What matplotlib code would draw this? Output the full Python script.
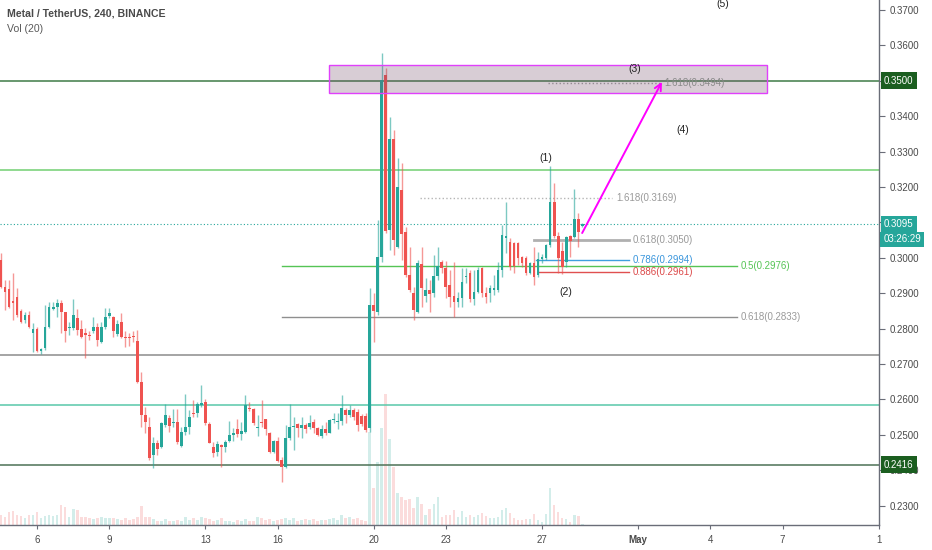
import numpy as np
import matplotlib.pyplot as plt
from matplotlib.patches import Rectangle

plt.rcParams['font.family'] = ['Liberation Sans', 'DejaVu Sans']

# 4h candles, first one is Apr 4 12:00
opens = [0.2994, 0.2918, 0.2911, 0.2878, 0.2890, 0.2851, 0.2824, 0.2839, 0.2789, 0.2800,
         0.2738, 0.2744, 0.2804, 0.2855, 0.2862, 0.2871, 0.2848, 0.2801, 0.2801, 0.2829,
         0.2798, 0.2789, 0.2782, 0.2792, 0.2804, 0.2763, 0.2804, 0.2836, 0.2834, 0.2785,
         0.2820, 0.2777, 0.2777, 0.2779, 0.2766, 0.2650, 0.2556, 0.2523, 0.2443, 0.2478,
         0.2465, 0.2528, 0.2548, 0.2532, 0.2535, 0.2468, 0.2509, 0.2521, 0.2562, 0.2561,
         0.2584, 0.2594, 0.2531, 0.2466, 0.2452, 0.2471, 0.2466, 0.2483, 0.2500, 0.2516,
         0.2503, 0.2509, 0.2575, 0.2572, 0.2518, 0.2537, 0.2544, 0.2505, 0.2452, 0.2483,
         0.2429, 0.2410, 0.2490, 0.2521, 0.2530, 0.2518, 0.2528, 0.2521, 0.2537, 0.2518,
         0.2497, 0.2516, 0.2506, 0.2542, 0.2537, 0.2540, 0.2570, 0.2556, 0.2570, 0.2565,
         0.2553, 0.2553, 0.2519, 0.2867, 0.2848, 0.3003, 0.3516, 0.3078, 0.3337, 0.3031,
         0.3192, 0.3073, 0.2951, 0.2901, 0.2848, 0.2982, 0.2892, 0.2909, 0.2901, 0.2949,
         0.2988, 0.2971, 0.2923, 0.2892, 0.2875, 0.2887, 0.2946, 0.2957, 0.2884, 0.2904,
         0.2971, 0.2901, 0.2901, 0.2909, 0.2909, 0.2966, 0.3057, 0.3045, 0.3042, 0.3041,
         0.3001, 0.2999, 0.2957, 0.2984, 0.2951, 0.2996, 0.2999, 0.3036, 0.3158, 0.3061,
         0.3019, 0.2989, 0.3061, 0.3059, 0.3109, 0.3090]
highs = [0.3014, 0.2937, 0.2937, 0.2956, 0.2914, 0.2855, 0.2848, 0.2850, 0.2815, 0.2805,
         0.2744, 0.2866, 0.2876, 0.2876, 0.2885, 0.2881, 0.2848, 0.2820, 0.2883, 0.2855,
         0.2824, 0.2801, 0.2792, 0.2832, 0.2815, 0.2820, 0.2857, 0.2857, 0.2836, 0.2824,
         0.2843, 0.2792, 0.2787, 0.2792, 0.2796, 0.2678, 0.2579, 0.2551, 0.2495, 0.2485,
         0.2537, 0.2587, 0.2556, 0.2572, 0.2572, 0.2523, 0.2615, 0.2570, 0.2598, 0.2594,
         0.2640, 0.2600, 0.2537, 0.2481, 0.2483, 0.2474, 0.2485, 0.2540, 0.2518, 0.2544,
         0.2537, 0.2612, 0.2594, 0.2575, 0.2556, 0.2598, 0.2544, 0.2507, 0.2485, 0.2495,
         0.2437, 0.2528, 0.2587, 0.2551, 0.2532, 0.2551, 0.2534, 0.2556, 0.2544, 0.2521,
         0.2528, 0.2537, 0.2544, 0.2562, 0.2561, 0.2612, 0.2577, 0.2584, 0.2577, 0.2572,
         0.2559, 0.2561, 0.2915, 0.2901, 0.3107, 0.3579, 0.3536, 0.3399, 0.3361, 0.3282,
         0.3268, 0.3087, 0.3031, 0.2918, 0.2994, 0.3031, 0.2943, 0.2937, 0.3008, 0.3031,
         0.2994, 0.2991, 0.2966, 0.2988, 0.2904, 0.2971, 0.2971, 0.2966, 0.2966, 0.2974,
         0.2974, 0.2918, 0.2923, 0.2951, 0.2988, 0.3093, 0.3158, 0.3056, 0.3045, 0.3045,
         0.3005, 0.3005, 0.2989, 0.3031, 0.3017, 0.3011, 0.3039, 0.3258, 0.3210, 0.3073,
         0.3045, 0.3061, 0.3064, 0.3193, 0.3126, 0.3099]
lows = [0.2914, 0.2853, 0.2857, 0.2824, 0.2834, 0.2815, 0.2815, 0.2801, 0.2735, 0.2735,
        0.2728, 0.2740, 0.2801, 0.2853, 0.2834, 0.2787, 0.2763, 0.2782, 0.2796, 0.2782,
        0.2773, 0.2716, 0.2768, 0.2787, 0.2751, 0.2758, 0.2800, 0.2829, 0.2777, 0.2779,
        0.2773, 0.2748, 0.2751, 0.2763, 0.2646, 0.2523, 0.2504, 0.2429, 0.2406, 0.2443,
        0.2462, 0.2523, 0.2509, 0.2523, 0.2474, 0.2466, 0.2500, 0.2503, 0.2551, 0.2551,
        0.2579, 0.2528, 0.2476, 0.2437, 0.2440, 0.2410, 0.2452, 0.2481, 0.2483, 0.2495,
        0.2485, 0.2505, 0.2566, 0.2528, 0.2497, 0.2523, 0.2500, 0.2449, 0.2448, 0.2424,
        0.2368, 0.2406, 0.2485, 0.2457, 0.2495, 0.2490, 0.2506, 0.2516, 0.2505, 0.2497,
        0.2490, 0.2500, 0.2505, 0.2534, 0.2516, 0.2528, 0.2532, 0.2551, 0.2542, 0.2511,
        0.2525, 0.2509, 0.2508, 0.2762, 0.2839, 0.2989, 0.3070, 0.3022, 0.3008, 0.3028,
        0.2994, 0.2946, 0.2904, 0.2824, 0.2845, 0.2861, 0.2875, 0.2847, 0.2890, 0.2937,
        0.2957, 0.2887, 0.2861, 0.2833, 0.2861, 0.2861, 0.2929, 0.2875, 0.2867, 0.2901,
        0.2889, 0.2872, 0.2875, 0.2895, 0.2904, 0.2946, 0.3014, 0.2966, 0.2957, 0.2980,
        0.2975, 0.2951, 0.2954, 0.2923, 0.2946, 0.2984, 0.2994, 0.3031, 0.3055, 0.2956,
        0.2954, 0.2973, 0.3003, 0.3055, 0.3031, 0.3088]
closes = [0.2918, 0.2904, 0.2862, 0.2873, 0.2839, 0.2820, 0.2839, 0.2804, 0.2800, 0.2738,
          0.2742, 0.2804, 0.2862, 0.2862, 0.2871, 0.2848, 0.2792, 0.2804, 0.2839, 0.2796,
          0.2777, 0.2782, 0.2780, 0.2804, 0.2768, 0.2805, 0.2832, 0.2845, 0.2792, 0.2813,
          0.2777, 0.2774, 0.2774, 0.2775, 0.2650, 0.2556, 0.2537, 0.2434, 0.2478, 0.2459,
          0.2534, 0.2556, 0.2525, 0.2537, 0.2481, 0.2509, 0.2523, 0.2551, 0.2558, 0.2587,
          0.2590, 0.2534, 0.2478, 0.2448, 0.2474, 0.2466, 0.2481, 0.2500, 0.2506, 0.2503,
          0.2511, 0.2584, 0.2572, 0.2532, 0.2521, 0.2532, 0.2516, 0.2452, 0.2483, 0.2427,
          0.2408, 0.2490, 0.2523, 0.2525, 0.2518, 0.2528, 0.2516, 0.2534, 0.2518, 0.2500,
          0.2516, 0.2505, 0.2542, 0.2544, 0.2540, 0.2575, 0.2556, 0.2570, 0.2551, 0.2528,
          0.2530, 0.2514, 0.2867, 0.2851, 0.3002, 0.3502, 0.3076, 0.3337, 0.3050, 0.3200,
          0.3067, 0.2951, 0.2909, 0.2853, 0.2986, 0.2915, 0.2909, 0.2898, 0.2949, 0.2977,
          0.2971, 0.2918, 0.2889, 0.2875, 0.2887, 0.2932, 0.2949, 0.2884, 0.2904, 0.2966,
          0.2901, 0.2889, 0.2915, 0.2915, 0.2966, 0.3064, 0.3061, 0.2975, 0.2977, 0.2999,
          0.2984, 0.2957, 0.2984, 0.2946, 0.2996, 0.3003, 0.3036, 0.3158, 0.3061, 0.2999,
          0.2975, 0.3059, 0.3048, 0.3109, 0.3074, 0.3095]
volumes = [10, 8, 13, 14, 10, 9, 7, 10, 10, 13, 7, 9, 10, 9, 10, 20, 18, 8, 16, 15,
           8, 8, 7, 6, 7, 8, 7, 7, 7, 6, 5, 7, 5, 6, 8, 19, 8, 8, 6, 4,
           4, 6, 4, 4, 5, 4, 8, 5, 7, 5, 8, 7, 6, 4, 5, 7, 4, 4, 3, 5,
           4, 6, 4, 4, 8, 7, 5, 6, 4, 5, 6, 7, 5, 7, 4, 5, 6, 5, 6, 4,
           5, 5, 6, 7, 5, 10, 7, 8, 6, 7, 5, 4,
           93, 37, 63, 97, 131, 86, 58, 32, 28, 25, 26, 17, 28, 21, 10, 16, 21, 28, 8, 10,
           10, 15, 8, 14, 8, 10, 8, 10, 12, 9, 7, 7, 8, 15, 17, 12, 7, 5, 5, 6,
           6, 11, 5, 3, 11, 37, 20, 13, 7, 6, 3, 10, 9, 1]

# day of month (May continues as 31, 32...) for the x labels
tick_days = [6, 9, 13, 16, 20, 23, 27, 31, 34, 37, 41]
tick_labels = ['6', '9', '13', '16', '20', '23', '27', 'May', '4', '7', '1']
price_ticks = [0.23, 0.24, 0.25, 0.26, 0.27, 0.28, 0.29, 0.30, 0.31, 0.32, 0.33,
               0.34, 0.35, 0.36, 0.37]
# scale labels covered by the price boxes
hidden_ticks = [0.31, 0.35]

# full-width horizontal levels
levels = [0.3500, 0.3248, 0.2725, 0.2584, 0.2416]
level_colors = ['#3f7a47', '#72d072', '#8c8c8c', '#58c8aa', '#4d7256']
last_price = 0.3095
timer = '03:26:29'

# fib levels: price, start candle, end candle, colour, style
fibs = [
    (0.3494, 136.5, 164.4, '#a0a0a0', ':', 1.0, '1.618(0.3494)'),
    (0.3169, 104.5, 152.4, '#b5b5b5', ':', 1.0, '1.618(0.3169)'),
    (0.3050, 133.0, 156.7, '#b0b0b0', '-', 2.0, '0.618(0.3050)'),
    (0.2994, 133.5, 156.7, '#3f9fe0', '-', 1.0, '0.786(0.2994)'),
    (0.2961, 134.0, 156.7, '#e05050', '-', 1.0, '0.886(0.2961)'),
    (0.2976, 70.1, 183.6, '#55c455', '-', 1.0, '0.5(0.2976)'),
    (0.2833, 70.1, 183.6, '#8f8f8f', '-', 1.0, '0.618(0.2833)'),
]
fib_text_colors = ['#8a8a8a', '#9a9a9a', '#9a9a9a', '#3a96dc', '#dc4a4a', '#55c455', '#9a9a9a']

waves = ['(1)', '(2)', '(3)', '(4)', '(5)']
wave_x = [136.0, 141.0, 158.0, 170.0, 180.0]
wave_y = [0.3282, 0.2903, 0.3533, 0.3360, 0.3717]

zone_x = (81.8, 191.1)
zone_y = (0.3466, 0.3545)
arrow_from = (145.0, 0.3070)
arrow_to = (164.9, 0.3497)

green = '#26a69a'
red = '#ef5350'


def main():
    fig = plt.figure(figsize=(9.32, 5.5), dpi=100, facecolor='white')
    ax = fig.add_axes([0, 25 / 550, 879 / 932, 525 / 550])
    axv = ax.twinx()

    x = np.arange(len(closes))
    o = np.array(opens)
    c = np.array(closes)
    h = np.array(highs)
    l = np.array(lows)
    up = c >= o
    col = np.where(up, green, red)

    # volume overlay
    axv.bar(x, volumes, width=0.68, color=col, alpha=0.2, linewidth=0)
    axv.set_ylim(0, max(volumes) * 4.0)
    axv.axis('off')
    ax.set_zorder(axv.get_zorder() + 1)
    ax.patch.set_visible(False)

    # candles
    ax.vlines(x, l, h, colors=col, linewidth=1, alpha=0.6, zorder=3)
    ax.bar(x, np.maximum(np.abs(c - o), 0.0003), bottom=np.minimum(o, c), width=0.7,
           color=col, linewidth=0, zorder=4)

    for lev, lc in zip(levels, level_colors):
        ax.axhline(lev, color=lc, linewidth=1.1, zorder=2)
    ax.axhline(last_price, color=green, linewidth=0.8, linestyle=(0, (1, 2)), zorder=2)

    for (p, x0, x1, fc, ls, lw, txt), tc in zip(fibs, fib_text_colors):
        ax.plot([x0, x1], [p, p], color=fc, linestyle=ls, linewidth=lw, zorder=2)
        ax.text(x1 + 1.0, p, txt, color=tc, fontsize=7, va='center', ha='left', zorder=6)

    ax.add_patch(Rectangle((zone_x[0], zone_y[0]), zone_x[1] - zone_x[0], zone_y[1] - zone_y[0],
                           facecolor=(0.45, 0.3, 0.42, 0.28), edgecolor='#e040fb',
                           linewidth=1, zorder=5))
    ax.annotate('', xy=arrow_to, xytext=arrow_from,
                arrowprops=dict(arrowstyle='->', color='#ff00ff', lw=1.4,
                                shrinkA=0, shrinkB=0, mutation_scale=12), zorder=7)

    for t, wx, wy in zip(waves, wave_x, wave_y):
        ax.text(wx, wy, t, fontsize=7.5, color='#222222', ha='center', va='center', zorder=6)

    ax.set_xlim(-1 / 4.008, 878 / 4.008)
    ax.set_ylim(0.22452, 0.37283)

    ax.set_xticks([9 + (d - 6) * 6 for d in tick_days])
    ax.set_xticklabels(tick_labels)
    for lab in ax.get_xticklabels():
        if lab.get_text() == 'May':
            lab.set_fontweight('bold')
    ax.yaxis.tick_right()
    ax.set_yticks(price_ticks)
    ax.set_yticklabels(['' if p in hidden_ticks else '%.4f' % p for p in price_ticks])

    ax.tick_params(axis='x', length=3, color='#6a6d78', labelsize=7, labelcolor='#4a4a4a', pad=4)
    ax.tick_params(axis='y', length=4, color='#6a6d78', labelsize=7, labelcolor='#4a4a4a', pad=4)
    for s in ['top', 'left']:
        ax.spines[s].set_visible(False)
    for s in ['right', 'bottom']:
        ax.spines[s].set_color('#6a6d78')
        ax.spines[s].set_linewidth(1)

    tr = ax.get_yaxis_transform()
    for p, fc in [(0.3500, '#1b5e20'), (0.2416, '#1b5e20'), (last_price, green)]:
        ax.text(1.0057, p, '%.4f' % p, transform=tr, ha='left', va='center', fontsize=7,
                color='white', zorder=10, clip_on=False,
                bbox=dict(boxstyle='square,pad=0.35', fc=fc, ec='none'))
    ax.annotate(timer, xy=(1.0, last_price), xycoords=tr, xytext=(3, -11),
                textcoords='offset points', ha='left', va='center', fontsize=7, color='white',
                zorder=10, annotation_clip=False,
                bbox=dict(boxstyle='square,pad=0.3', fc=green, ec='none'))

    fig.text(7 / 932, 1 - 14 / 550, 'Metal / TetherUS, 240, BINANCE', fontsize=7.6,
             fontweight='bold', color='#4a4a4a', va='center')
    fig.text(7 / 932, 1 - 29 / 550, 'Vol (20)', fontsize=7.6, color='#5a5a5a', va='center')

    fig.savefig('out.png', dpi=100, facecolor='white')


if __name__ == '__main__':
    main()
